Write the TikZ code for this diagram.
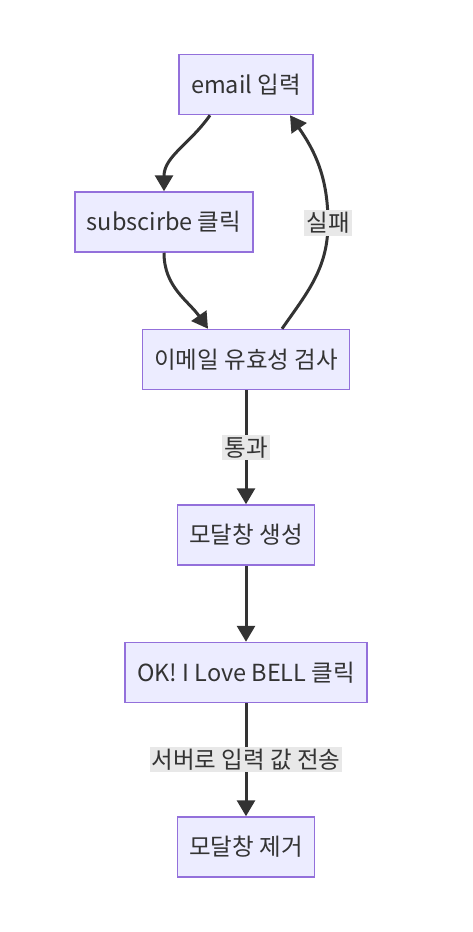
\documentclass[tikz,border=0pt]{standalone}
\usepackage{fontspec}
\setmainfont{Noto Sans CJK KR}
\usetikzlibrary{arrows.meta,positioning}
\definecolor{boxfill}{HTML}{ECECFF}
\definecolor{boxline}{HTML}{9370DB}
\definecolor{ink}{HTML}{333333}
\definecolor{labelbg}{HTML}{E8E8E8}
\tikzset{%
  >={Triangle[width=18pt,length=16pt]},
  % Specifications for style of nodes:
       base/.style = {rectangle, draw=boxline, line width=1.5pt, fill=boxfill,
                      minimum height=60pt, inner xsep=12pt, text=ink,
                      font=\fontsize{23.5}{28}\selectfont},
  edgelabel/.style = {rectangle, fill=labelbg, text=ink, inner sep=2pt,
                      font=\fontsize{23.5}{28}\selectfont},
       flow/.style = {->, draw=ink, line width=3pt},
}

\begin{document}
\begin{tikzpicture}[x=1pt, y=1pt, node distance=76pt]
    \useasboundingbox (0,0) rectangle (472,-932);

    \node (email) [base] at (246,-84.5) {email 입력};
    \node (subscribe) [base, below = of email, xshift=-82pt] {subscirbe 클릭};
    \node (check) [base, below = of subscribe, xshift=82pt] {이메일 유효성 검사};
    \node (modalopen) [base, below = 114pt of check] {모달창 생성};
    \node (love) [base, below = of modalopen] {OK! I Love BELL 클릭};
    \node (modalclose) [base, below = 113pt of love] {모달창 제거};

    \draw [flow] ([xshift=-36pt]email.south) to [out=-125, in=90] (subscribe.north);
    \draw [flow] (subscribe.south) to [out=-90, in=125] ([xshift=-38pt]check.north);

    \coordinate (failturn) at (328,-223);
    \draw [flow] ([xshift=36pt]check.north) to [out=55, in=-90] (failturn)
                 to [out=90, in=-55] ([xshift=44pt]email.south);
    \node (fail) [edgelabel] at (failturn) {실패};

    \draw [flow] (check) -- node [edgelabel] {통과} (modalopen);
    \draw [flow] (modalopen) -- (love);
    \draw [flow] (love) -- node [edgelabel] {서버로 입력 값 전송} (modalclose);
\end{tikzpicture}
\end{document}
